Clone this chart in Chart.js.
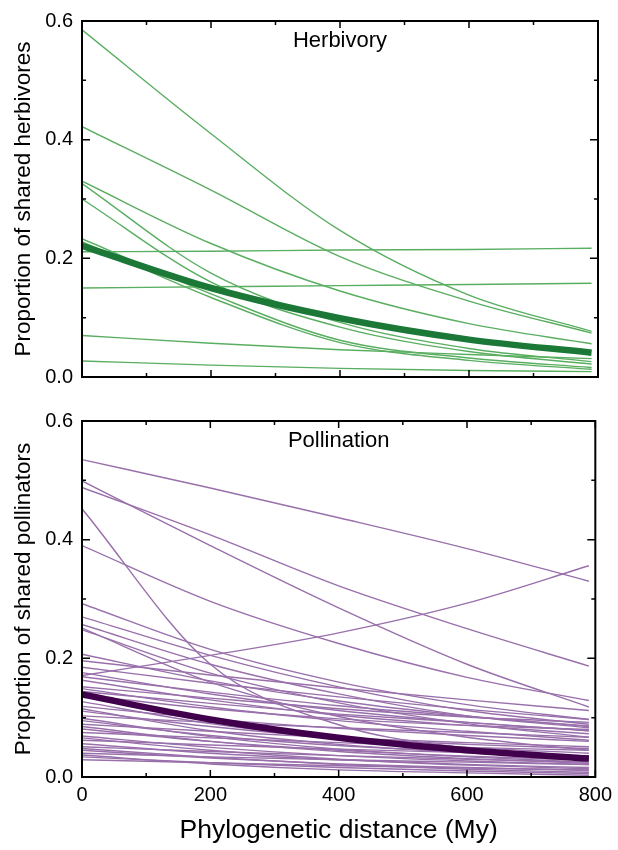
<!DOCTYPE html>
<html><head><meta charset="utf-8">
<script src="https://cdn.jsdelivr.net/npm/chart.js@4.4.0/dist/chart.umd.min.js"></script>
<style>
html,body{margin:0;padding:0;background:#fff;width:618px;height:850px;overflow:hidden}
#c1{position:absolute;left:0;top:0}
#c2{position:absolute;left:0;top:400px}
</style></head><body>
<canvas id="c1" width="618" height="400"></canvas>
<canvas id="c2" width="618" height="450"></canvas>
<script>
// ---- data ----
const xPoints = [0, 200, 400, 600, 790];
const xMajorTicks = [0, 200, 400, 600, 800];
const xMinorTicks = [100, 300, 500, 700];
const xTickLabels = ['0', '200', '400', '600', '800'];
const yMajorTicks = [0, 0.2, 0.4, 0.6];
const yMinorTicks = [0.1, 0.3, 0.5];
const yTickLabels = ['0.0', '0.2', '0.4', '0.6'];

const herbivoryMean = [0.221, 0.150, 0.099, 0.063, 0.041];
const herbivoryCurves = [
  [0.585, 0.410, 0.247, 0.138, 0.077],
  [0.422, 0.315, 0.203, 0.128, 0.074],
  [0.330, 0.225, 0.145, 0.090, 0.056],
  [0.326, 0.175, 0.092, 0.048, 0.026],
  [0.300, 0.160, 0.084, 0.043, 0.022],
  [0.233, 0.140, 0.062, 0.032, 0.016],
  [0.228, 0.134, 0.058, 0.028, 0.013],
  [0.211, 0.212, 0.214, 0.215, 0.217],
  [0.150, 0.152, 0.154, 0.156, 0.158],
  [0.070, 0.057, 0.046, 0.038, 0.031],
  [0.027, 0.020, 0.0145, 0.011, 0.009]
];

const pollinationMean = [0.139, 0.097, 0.066, 0.045, 0.031];
const pollinationCurves = [
  [0.535, 0.487, 0.437, 0.385, 0.330],
  [0.488, 0.408, 0.322, 0.250, 0.187],
  [0.499, 0.390, 0.285, 0.190, 0.118],
  [0.452, 0.190, 0.088, 0.048, 0.028],
  [0.390, 0.296, 0.225, 0.168, 0.129],
  [0.171, 0.205, 0.243, 0.293, 0.356],
  [0.292, 0.215, 0.160, 0.122, 0.097],
  [0.270, 0.205, 0.152, 0.112, 0.089],
  [0.257, 0.190, 0.140, 0.103, 0.083],
  [0.251, 0.160, 0.102, 0.067, 0.045],
  [0.248, 0.175, 0.125, 0.090, 0.067],
  [0.207, 0.162, 0.128, 0.103, 0.085],
  [0.196, 0.172, 0.150, 0.130, 0.112],
  [0.185, 0.158, 0.135, 0.114, 0.097],
  [0.176, 0.140, 0.112, 0.092, 0.078],
  [0.169, 0.143, 0.120, 0.102, 0.086],
  [0.163, 0.130, 0.104, 0.087, 0.073],
  [0.152, 0.133, 0.115, 0.101, 0.092],
  [0.149, 0.118, 0.095, 0.077, 0.062],
  [0.144, 0.124, 0.106, 0.092, 0.078],
  [0.138, 0.115, 0.098, 0.087, 0.080],
  [0.127, 0.090, 0.065, 0.050, 0.040],
  [0.119, 0.098, 0.082, 0.070, 0.060],
  [0.115, 0.078, 0.055, 0.041, 0.031],
  [0.111, 0.085, 0.066, 0.055, 0.048],
  [0.103, 0.092, 0.083, 0.075, 0.067],
  [0.099, 0.068, 0.047, 0.034, 0.025],
  [0.095, 0.070, 0.053, 0.042, 0.034],
  [0.089, 0.077, 0.066, 0.058, 0.051],
  [0.085, 0.060, 0.043, 0.031, 0.023],
  [0.081, 0.060, 0.045, 0.035, 0.029],
  [0.075, 0.066, 0.058, 0.050, 0.045],
  [0.069, 0.050, 0.036, 0.027, 0.021],
  [0.066, 0.045, 0.030, 0.020, 0.014],
  [0.062, 0.054, 0.047, 0.041, 0.036],
  [0.056, 0.040, 0.029, 0.021, 0.016],
  [0.051, 0.043, 0.036, 0.030, 0.025],
  [0.048, 0.033, 0.021, 0.013, 0.008],
  [0.045, 0.032, 0.022, 0.016, 0.011],
  [0.040, 0.034, 0.029, 0.025, 0.021],
  [0.037, 0.022, 0.012, 0.007, 0.003],
  [0.034, 0.024, 0.016, 0.010, 0.006],
  [0.029, 0.024, 0.019, 0.015, 0.012]
];

// ---- rendering ----
const FONT = '"Liberation Sans", Arial, Helvetica, sans-serif';

const framePlugin = {
  id: 'frame',
  afterDatasetsDraw(chart, args, opts) {
    const {ctx, chartArea: a, scales: {x, y}} = chart;
    ctx.save();
    ctx.strokeStyle = '#000';
    ctx.lineWidth = 1.5;
    ctx.beginPath();
    const xt = (vals, len) => vals.forEach(v => {
      const p = x.getPixelForValue(v);
      ctx.moveTo(p, a.bottom); ctx.lineTo(p, a.bottom - len);
      ctx.moveTo(p, a.top); ctx.lineTo(p, a.top + len);
    });
    const yt = (vals, len) => vals.forEach(v => {
      const p = y.getPixelForValue(v);
      ctx.moveTo(a.left, p); ctx.lineTo(a.left + len, p);
      ctx.moveTo(a.right, p); ctx.lineTo(a.right - len, p);
    });
    xt(xMajorTicks, 7); xt(xMinorTicks, 4);
    yt(yMajorTicks, 8); yt(yMinorTicks, 4);
    ctx.stroke();
    ctx.lineWidth = 2;
    ctx.strokeRect(a.left, a.top, a.right - a.left, a.bottom - a.top);
    ctx.fillStyle = '#000';
    ctx.font = '22px ' + FONT;
    ctx.textAlign = 'center';
    ctx.textBaseline = 'alphabetic';
    ctx.fillText(opts.label, (a.left + a.right) / 2, a.top + 26);
    ctx.restore();
  }
};

function makeDatasets(curves, mean, thinColor, thickColor) {
  const ds = [{
    data: xPoints.map((xv, i) => ({x: xv, y: mean[i]})),
    borderColor: thickColor, borderWidth: 6.5, order: 0
  }];
  curves.forEach(c => ds.push({
    data: xPoints.map((xv, i) => ({x: xv, y: c[i]})),
    borderColor: thinColor, borderWidth: 1.4, order: 1
  }));
  return ds;
}

function makeOptions(label, showX, yTitle) {
  return {
    responsive: false, animation: false, events: [],
    layout: {padding: showX ? {top: 15.3, right: 20, bottom: 0, left: 0}
                            : {top: 16.5, right: 20, bottom: 23, left: 0}},
    elements: {point: {radius: 0}, line: {cubicInterpolationMode: 'monotone', fill: false, borderCapStyle: 'butt'}},
    plugins: {legend: {display: false}, tooltip: {enabled: false}, frame: {label}},
    scales: {
      x: {
        type: 'linear', min: 0, max: 800, display: showX,
        grid: {display: false, drawTicks: false}, border: {display: false},
        afterBuildTicks: s => { s.ticks = xMajorTicks.map(v => ({value: v})); },
        ticks: {callback: (v, i) => xTickLabels[i], font: {family: FONT, size: 20}, color: '#000',
                padding: 6, maxRotation: 0, autoSkip: false},
        title: {display: showX, text: 'Phylogenetic distance (My)', font: {family: FONT, size: 26.5},
                color: '#000', padding: {top: 0, bottom: 3.2}},
        afterFit: s => { s.height = showX ? 73 : 0; }
      },
      y: {
        type: 'linear', min: 0, max: 0.6,
        grid: {display: false, drawTicks: false}, border: {display: false},
        afterBuildTicks: s => { s.ticks = yMajorTicks.map(v => ({value: v})); },
        ticks: {callback: (v, i) => yTickLabels[i], font: {family: FONT, size: 20}, color: '#000', padding: 9},
        title: {display: true, text: yTitle, font: {family: FONT, size: 22.5}, color: '#000',
                padding: {top: 10, bottom: 0}},
        afterFit: s => { s.width = 82; }
      }
    }
  };
}

new Chart(document.getElementById('c1'), {
  type: 'line',
  data: {datasets: makeDatasets(herbivoryCurves, herbivoryMean, '#5aae61', '#1b7837')},
  options: makeOptions('Herbivory', false, 'Proportion of shared herbivores'),
  plugins: [framePlugin]
});
new Chart(document.getElementById('c2'), {
  type: 'line',
  data: {datasets: makeDatasets(pollinationCurves, pollinationMean, '#9970ab', '#40004b')},
  options: makeOptions('Pollination', true, 'Proportion of shared pollinators'),
  plugins: [framePlugin]
});
</script>
</body></html>
